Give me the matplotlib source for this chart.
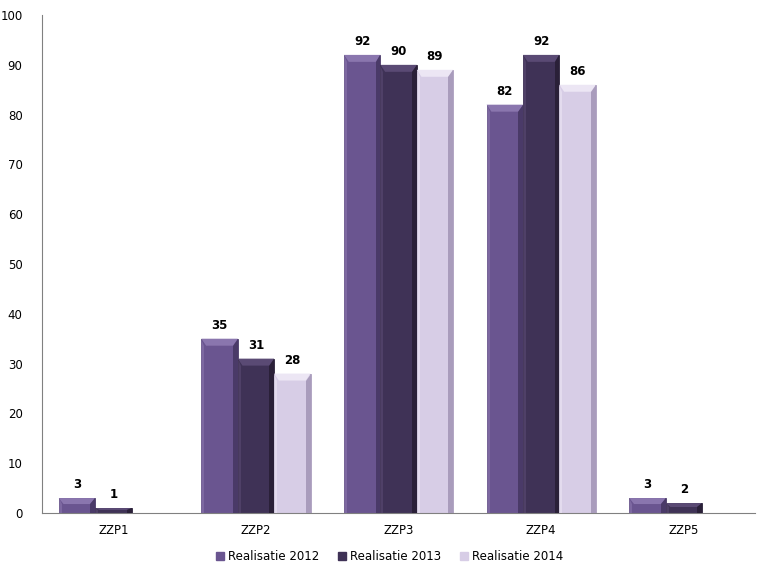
import numpy as np
import matplotlib.pyplot as plt
from matplotlib.patches import Polygon

categories = ["ZZP1", "ZZP2", "ZZP3", "ZZP4", "ZZP5"]
series_names = ["Realisatie 2012", "Realisatie 2013", "Realisatie 2014"]
values_2012 = [3, 35, 92, 82, 3]
values_2013 = [1, 31, 90, 92, 2]
values_2014 = [None, 28, 89, 86, None]

colors = ["#6a5590", "#3f3256", "#d7cde6"]
edge_dark = ["#4a3a68", "#2a2038", "#a99cbc"]
highlight = ["#8a76ae", "#5a4a74", "#ece6f4"]

fig = plt.figure(figsize=(7.71, 5.79), dpi=100)
ax = fig.add_axes([0.0545, 0.114, 0.925, 0.86])

x = np.arange(len(categories))
width = 0.255
all_series = [values_2012, values_2013, values_2014]

for i, vals in enumerate(all_series):
    offs = (i - 1) * width
    for xi, v in zip(x, vals):
        if v is None:
            continue
        left = xi + offs - width / 2
        ax.bar(xi + offs, v, width, color=colors[i], edgecolor=edge_dark[i],
               linewidth=0.6, zorder=2)
        # bevel: light top, darker right side, slightly light left side
        bev = min(1.4, v * 0.4)
        bx = width * 0.13
        ax.add_patch(Polygon([(left, v), (left + width, v),
                              (left + width - bx, v - bev), (left + bx, v - bev)],
                             closed=True, facecolor=highlight[i],
                             edgecolor="none", zorder=3))
        ax.add_patch(Polygon([(left + width, v), (left + width, 0),
                              (left + width - bx, 0), (left + width - bx, v - bev)],
                             closed=True, facecolor=edge_dark[i],
                             edgecolor="none", zorder=3))
        ax.add_patch(Polygon([(left, v), (left, 0),
                              (left + bx * 0.6, 0), (left + bx * 0.6, v - bev)],
                             closed=True, facecolor=highlight[i], alpha=0.6,
                             edgecolor="none", zorder=3))
        ax.text(xi + offs, v + 1.4, str(v), ha="center", va="bottom",
                fontsize=8.5, fontweight="bold", color="black", zorder=4)

ax.set_xlim(-0.5, len(categories) - 0.5)
ax.set_ylim(0, 100)
ax.set_yticks(range(0, 101, 10))
ax.set_xticks(x)
ax.set_xticklabels(categories)
ax.tick_params(axis="both", length=0, labelsize=8.5, colors="black")
ax.tick_params(axis="x", pad=8)
ax.tick_params(axis="y", pad=14)
for s in ["top", "right"]:
    ax.spines[s].set_visible(False)
for s in ["left", "bottom"]:
    ax.spines[s].set_color("#808080")

handles = [plt.Rectangle((0, 0), 1, 1, color=c) for c in colors]
fig.legend(handles, series_names, loc="center", bbox_to_anchor=(0.505, 0.038),
           ncol=3, frameon=False, fontsize=8.5, handlelength=0.7,
           handleheight=0.7, handletextpad=0.3, columnspacing=1.6)

fig.savefig("out.png", dpi=100)
